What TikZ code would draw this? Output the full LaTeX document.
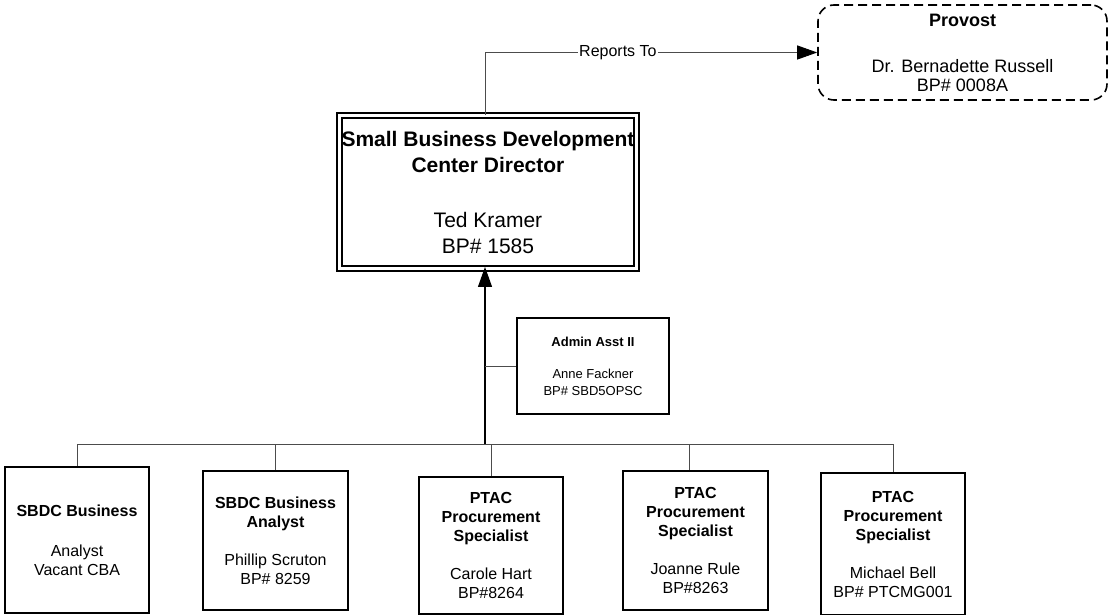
\documentclass[tikz,border=0pt]{standalone}
\usepackage{fontspec}
\setmainfont{Liberation Sans}
\usetikzlibrary{arrows.meta}
\tikzset{
  box/.style={draw=black, line width=1.6pt, inner sep=0pt, align=center},
  conn/.style={draw=black!70, line width=0.9pt},
  arrline/.style={draw=black, line width=1.1pt},
  bigtip/.style={-{Triangle[length=20pt,width=14pt,color=black]}},
  lbl/.style={fill=white, inner sep=1pt, font=\fontsize{16}{19}\selectfont},
  small/.style={font=\fontsize{16}{19}\selectfont},
}
\begin{document}
\begin{tikzpicture}[x=1pt,y=-1pt]
\useasboundingbox (0,0) rectangle (1111,615);
% Provost
\node[box, rounded corners=16pt, dash pattern=on 9pt off 5pt,
      minimum width=289pt, minimum height=95pt,
      font=\fontsize{18}{19}\selectfont] (prov) at (962.5,52.5)
  {\textbf{Provost}\\[27pt]Dr. Bernadette Russell\\BP\# 0008A};
% Director
\node[box, double, double distance=2.4pt, line width=1.9pt,
      minimum width=297pt, minimum height=153pt,
      font=\fontsize{21}{26}\selectfont] (dir) at (488,192)
  {\textbf{Small Business Development}\\\textbf{Center Director}\\[29pt]Ted Kramer\\BP\# 1585};
% Admin
\node[box, minimum width=152pt, minimum height=96pt,
      font=\fontsize{13}{17}\selectfont] (adm) at (593,366)
  {\textbf{Admin Asst II}\\[15pt]Anne Fackner\\BP\# SBD5OPSC};
% Bottom row
\node[box, small, minimum width=144pt, minimum height=146pt] (b1) at (77,540)
  {\textbf{SBDC Business}\\[21pt]Analyst\\Vacant CBA};
\node[box, small, minimum width=145pt, minimum height=139pt] (b2) at (275.5,540.5)
  {\textbf{SBDC Business}\\\textbf{Analyst}\\[19pt]Phillip Scruton\\BP\# 8259};
\node[box, small, minimum width=144pt, minimum height=137pt] (b3) at (491,545.5)
  {\textbf{PTAC}\\\textbf{Procurement}\\\textbf{Specialist}\\[19pt]Carole Hart\\BP\#8264};
\node[box, small, minimum width=145pt, minimum height=139pt] (b4) at (695.5,540.5)
  {\textbf{PTAC}\\\textbf{Procurement}\\\textbf{Specialist}\\[19pt]Joanne Rule\\BP\#8263};
\node[box, small, minimum width=144pt, minimum height=142pt] (b5) at (893,544)
  {\textbf{PTAC}\\\textbf{Procurement}\\\textbf{Specialist}\\[19pt]Michael Bell\\BP\# PTCMG001};
% junction on bus
\coordinate (j) at (485,444.5);
% Reports To
\draw[conn, bigtip] ([xshift=-3pt]dir.north) |- node[pos=0.70, lbl] {Reports To} (prov.west);
% Up arrow
\draw[arrline, bigtip] (j) -- ([xshift=-3pt,yshift=2.5pt]dir.south);
% Admin connector
\draw[conn] (adm.west) -- (adm.west -| j);
% Bus
\draw[conn] (b1.north) -- (b1.north |- j) -- (b5.north |- j) -- (b5.north);
\draw[conn] (b2.north) -- (b2.north |- j);
\draw[conn] (b3.north) -- (b3.north |- j);
\draw[conn] ([xshift=-6pt]b4.north) -- ([xshift=-6pt]b4.north |- j);
\end{tikzpicture}
\end{document}
